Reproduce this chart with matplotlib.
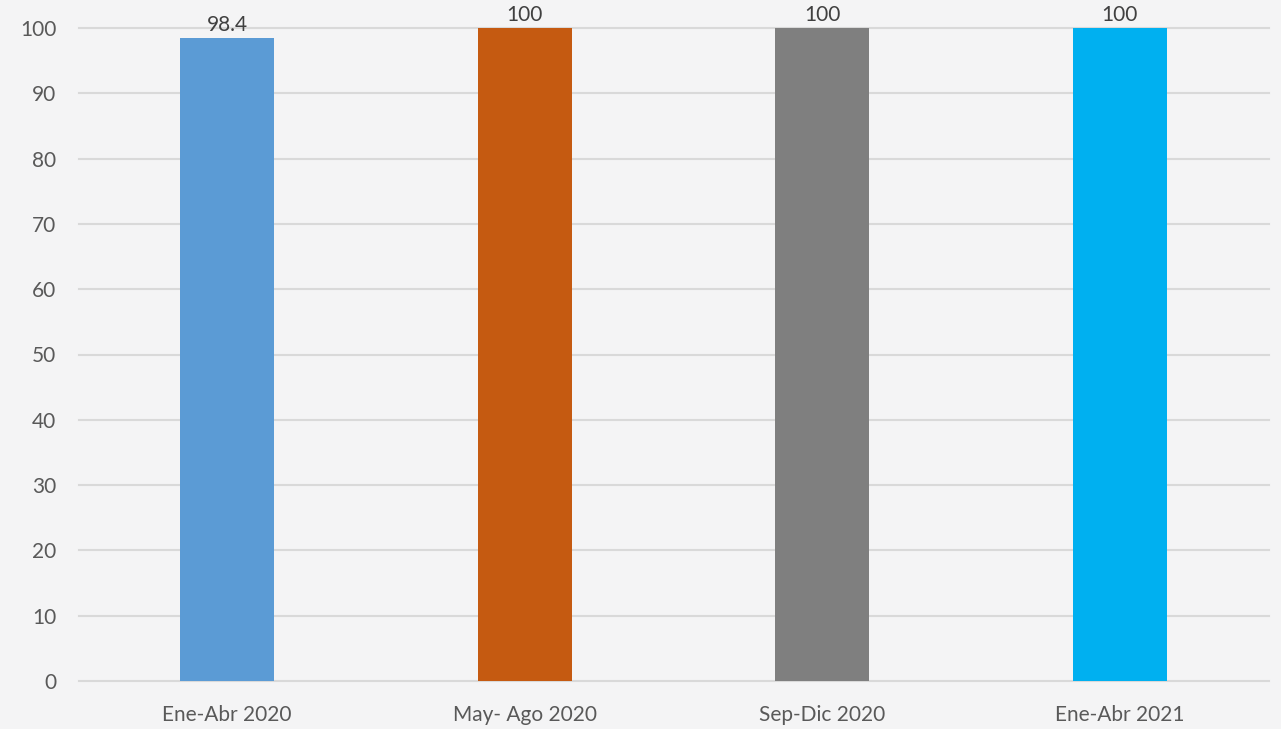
import matplotlib
matplotlib.use("Agg")
import matplotlib.pyplot as plt

categories = ["Ene-Abr 2020", "May- Ago 2020", "Sep-Dic 2020", "Ene-Abr 2021"]
values = [98.4, 100, 100, 100]
labels = ["98.4", "100", "100", "100"]
colors = ["#5B9BD5", "#C55A11", "#7F7F7F", "#00B0F0"]
yticks = [0, 10, 20, 30, 40, 50, 60, 70, 80, 90, 100]

plt.rcParams['font.family'] = ['Lato', 'DejaVu Sans']

fig = plt.figure(figsize=(12.81, 7.29), dpi=100)
fig.patch.set_facecolor("#f4f4f5")
ax = fig.add_axes([78.5/1281, 1-681/729, 1190/1281, (681-28)/729])
ax.set_facecolor("none")

x = range(len(categories))
bars = ax.bar(x, values, width=0.316, color=colors, zorder=3)
for b, lab in zip(bars, labels):
    ax.text(b.get_x() + b.get_width()/2, b.get_height() + 0.5, lab,
            ha="center", va="bottom", fontsize=15, color="#404040")

ax.set_xlim(-0.5, len(categories) - 0.5)
ax.set_ylim(0, 100)
ax.set_yticks(yticks)
ax.set_xticks(list(x))
ax.set_xticklabels(categories)
ax.yaxis.grid(True, color="#d9d9d9", linewidth=1.5, zorder=0)
ax.set_axisbelow(True)
for s in ax.spines.values():
    s.set_visible(False)
ax.tick_params(axis="both", length=0, labelsize=15, labelcolor="#595959")
ax.tick_params(axis="y", pad=16)
ax.tick_params(axis="x", pad=17)
for line in ax.get_ygridlines():
    line.set_clip_on(False)

fig.savefig("out.png", dpi=100, facecolor=fig.get_facecolor())
